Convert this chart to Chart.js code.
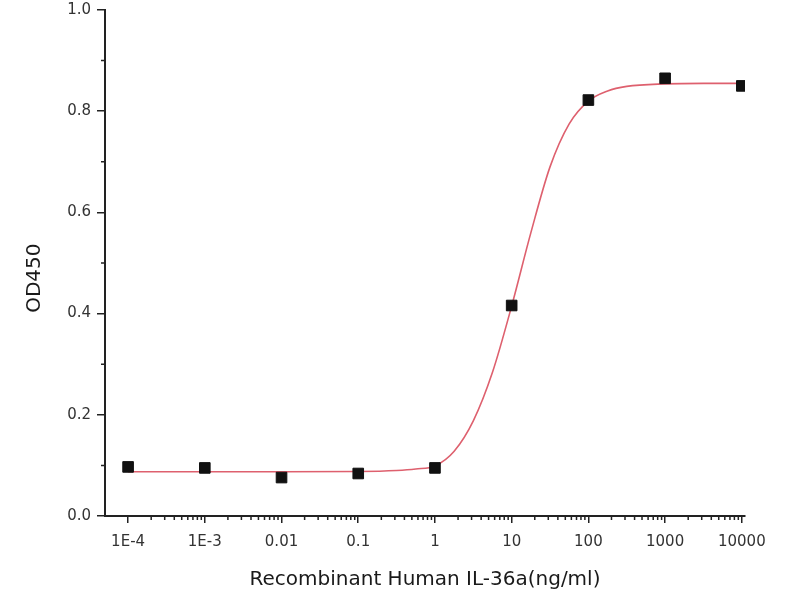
<!DOCTYPE html>
<html>
<head>
<meta charset="utf-8">
<script src="https://cdn.jsdelivr.net/npm/chart.js@4/dist/chart.umd.min.js"></script>
<style>
    html, body { margin: 0; padding: 0; background: #fff; }
    #wrap { width: 800px; height: 600px; }
</style>
</head>
<body>
<div id="wrap"><canvas id="odChart" width="800" height="600"></canvas></div>
<script>
// Measured points (concentration in ng/ml, OD450)
const concentrations = [1e-4, 1e-3, 0.01, 0.1, 1, 10, 100, 1000, 10000];
const od450 = [0.097, 0.095, 0.076, 0.084, 0.095, 0.416, 0.822, 0.865, 0.850];

// Fitted curve
const fitX = [1e-4, 1e-3, 0.01, 0.1, 0.316, 0.562, 1, 1.78, 3.16, 5.62, 10, 17.8, 31.6, 56.2, 100, 178, 316, 1000, 3162, 10000];
const fitY = [0.0875, 0.0875, 0.0875, 0.088, 0.090, 0.093, 0.099, 0.128, 0.188, 0.284, 0.415, 0.560, 0.690, 0.775, 0.820, 0.840, 0.849, 0.854, 0.855, 0.855];

// Axis ticks
const xTickValues = [1e-4, 1e-3, 0.01, 0.1, 1, 10, 100, 1000, 10000];
const xTickLabels = ['1E-4', '1E-3', '0.01', '0.1', '1', '10', '100', '1000', '10000'];
const yTickValues = [0, 0.2, 0.4, 0.6, 0.8, 1.0];
const yTickLabels = ['0.0', '0.2', '0.4', '0.6', '0.8', '1.0'];
const yMinorTicks = [0.1, 0.3, 0.5, 0.7, 0.9];

const axisColor = '#222';
const tickFont = { family: 'DejaVu Sans', size: 15 };

// small outward minor ticks on both axes, plus the y axis title
const axisExtras = {
    id: 'axisExtras',
    afterDraw(chart) {
        const ctx = chart.ctx;
        const xs = chart.scales.x, ys = chart.scales.y;
        const area = chart.chartArea;
        ctx.save();
        ctx.strokeStyle = axisColor;
        ctx.lineWidth = 1.5;
        ctx.beginPath();
        xTickValues.slice(0, -1).forEach(function (dec) {
            for (let m = 2; m <= 9; m++) {
                const px = xs.getPixelForValue(dec * m);
                ctx.moveTo(px, area.bottom);
                ctx.lineTo(px, area.bottom + 4);
            }
        });
        yMinorTicks.forEach(function (v) {
            const py = ys.getPixelForValue(v);
            ctx.moveTo(area.left, py);
            ctx.lineTo(area.left - 4, py);
        });
        ctx.stroke();

        // y title sits a little below the middle of the axis in the original
        ctx.translate(35, ys.getPixelForValue(0.47));
        ctx.rotate(-Math.PI / 2);
        ctx.fillStyle = '#1a1a1a';
        ctx.font = '20px "DejaVu Sans"';
        ctx.textAlign = 'center';
        ctx.textBaseline = 'middle';
        ctx.fillText('OD450', 0, 0);
        ctx.restore();
    }
};

new Chart(document.getElementById('odChart'), {
    type: 'scatter',
    data: {
        datasets: [
            {
                label: 'OD450',
                data: concentrations.map((c, i) => ({ x: c, y: od450[i] })),
                backgroundColor: '#111',
                borderColor: '#111',
                pointStyle: 'rect',
                pointRadius: 7.5,
                order: 1
            },
            {
                label: 'Fit',
                type: 'line',
                data: fitX.map((c, i) => ({ x: c, y: fitY[i] })),
                borderColor: 'rgb(222, 96, 110)',
                borderWidth: 1.6,
                pointRadius: 0,
                cubicInterpolationMode: 'monotone',
                fill: false,
                order: 2
            }
        ]
    },
    options: {
        responsive: false,
        animation: false,
        layout: { padding: { top: 10, right: 55, bottom: 0, left: 0 } },
        plugins: {
            legend: { display: false },
            tooltip: { enabled: false }
        },
        scales: {
            x: {
                type: 'logarithmic',
                min: 5e-5,
                max: 11000,
                afterFit: function (scale) { scale.height = 84; },
                afterBuildTicks: function (scale) {
                    scale.ticks = xTickValues.map(v => ({ value: v }));
                },
                ticks: {
                    autoSkip: false,
                    maxRotation: 0,
                    padding: 10,
                    color: '#333',
                    font: tickFont,
                    callback: function (value, index) { return xTickLabels[index]; }
                },
                grid: {
                    drawOnChartArea: false,
                    drawTicks: true,
                    tickLength: 7,
                    tickColor: axisColor,
                    lineWidth: 1.5
                },
                border: { color: axisColor, width: 2 },
                title: {
                    display: true,
                    text: 'Recombinant Human IL-36a(ng/ml)',
                    color: '#1a1a1a',
                    font: { family: 'DejaVu Sans', size: 20 },
                    padding: { top: 6, bottom: 8 }
                }
            },
            y: {
                min: 0,
                max: 1.0,
                afterFit: function (scale) {
                    scale.width = 105;
                    scale.paddingTop = 0;
                },
                afterBuildTicks: function (scale) {
                    scale.ticks = yTickValues.map(v => ({ value: v }));
                },
                ticks: {
                    padding: 6,
                    color: '#333',
                    font: tickFont,
                    callback: function (value, index) { return yTickLabels[index]; }
                },
                grid: {
                    drawOnChartArea: false,
                    drawTicks: true,
                    tickLength: 8,
                    tickColor: axisColor,
                    lineWidth: 1.5
                },
                border: { color: axisColor, width: 2 }
            }
        }
    },
    plugins: [axisExtras]
});
</script>
</body>
</html>
